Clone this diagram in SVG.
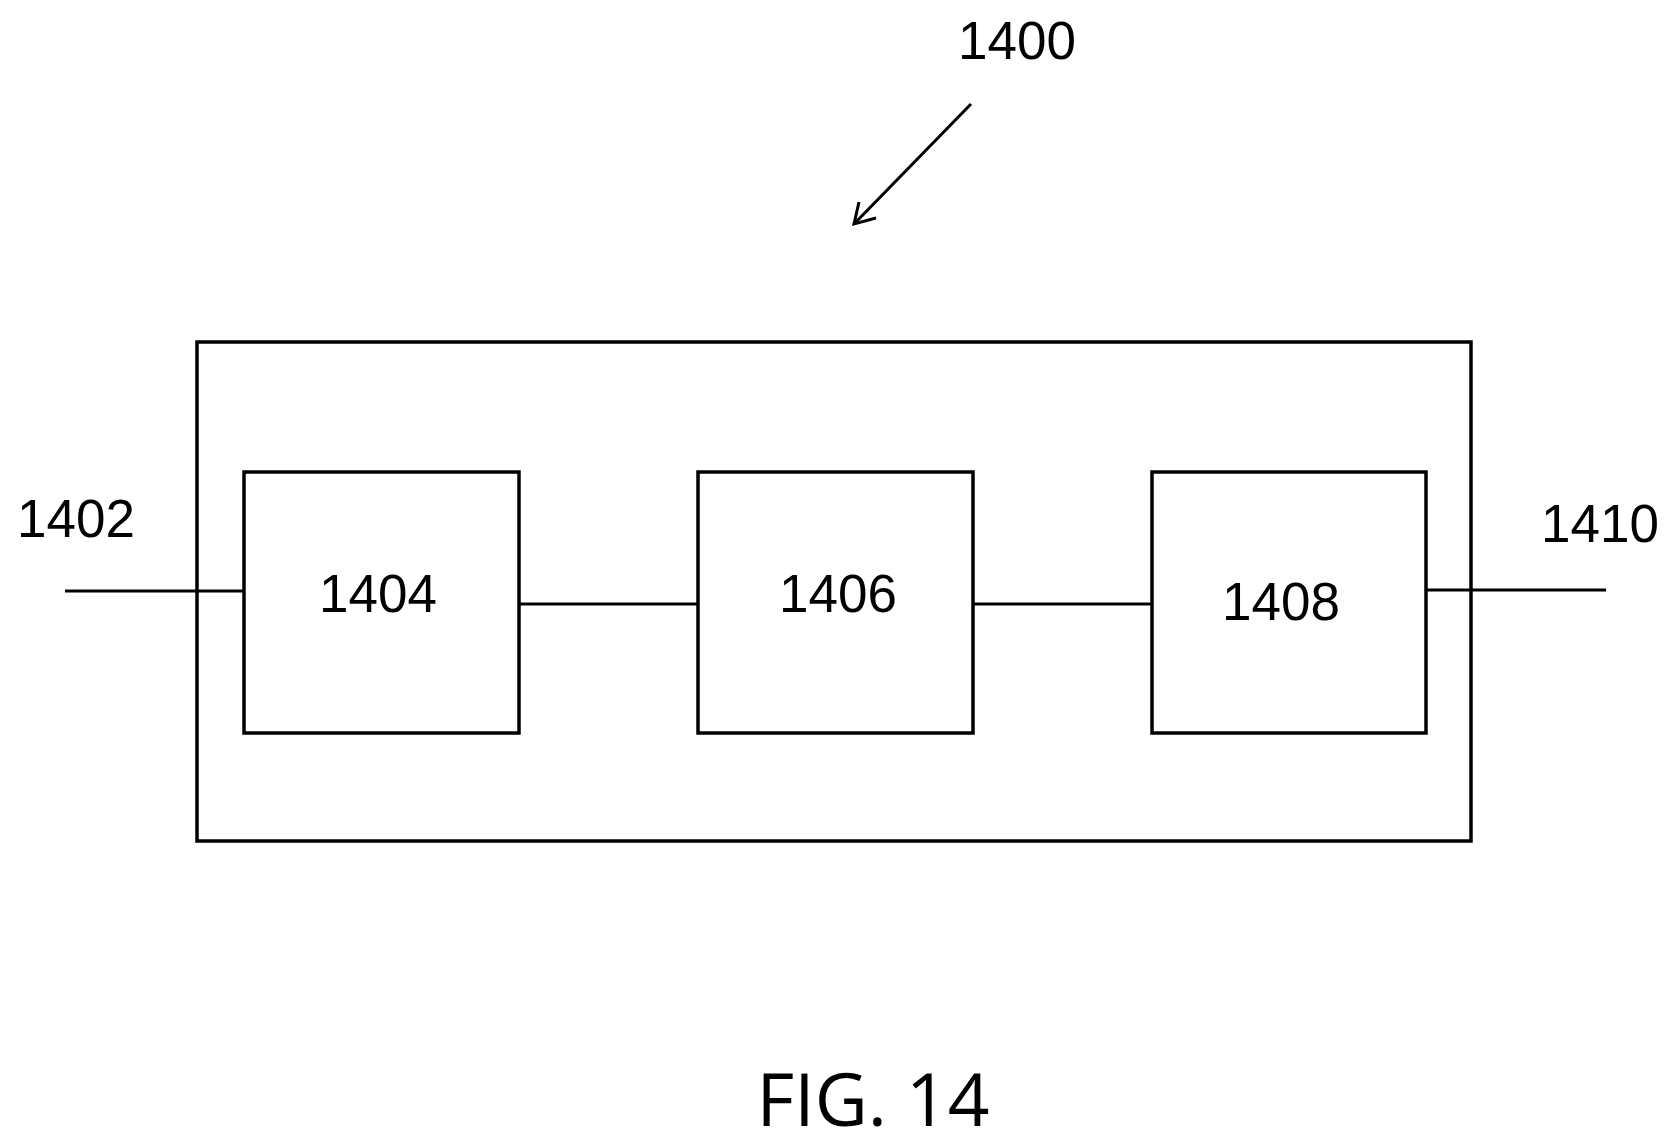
<svg xmlns="http://www.w3.org/2000/svg" width="1672" height="1144" viewBox="0 0 1672 1144">
<style>
.b{fill:none;stroke:#000;stroke-width:3.5}
.l{stroke:#000;stroke-width:3;fill:none}
text{font-family:"Liberation Sans",Arial,sans-serif;font-size:53px;text-anchor:middle;fill:#000}
</style>
<rect width="1672" height="1144" fill="#fff"/>
<g id="n1400"><rect class="b" x="197" y="342" width="1274" height="499"/>
<text x="1017" y="59">1400</text></g>
<g id="n1404"><rect class="b" x="244" y="472" width="275" height="261"/><text x="378" y="612">1404</text></g>
<g id="n1406"><rect class="b" x="698" y="472" width="275" height="261"/><text x="838" y="612">1406</text></g>
<g id="n1408"><rect class="b" x="1152" y="472" width="274" height="261"/><text x="1281" y="620">1408</text></g>
<g id="l1402"><text x="76" y="537">1402</text></g>
<g id="l1410"><text x="1600" y="542">1410</text></g>
<g id="connectors">
<line class="l" x1="65" y1="591" x2="244" y2="591"/>
<line class="l" x1="1426" y1="590" x2="1606" y2="590"/>
<line class="l" x1="519" y1="604" x2="698" y2="604"/>
<line class="l" x1="973" y1="604" x2="1152" y2="604"/>
<line class="l" x1="971" y1="104" x2="854" y2="224"/>
<polyline class="l" points="859,202 854,224 876,218"/>
</g>
<text x="873" y="1126" style="font-family:'Open Sans',sans-serif;font-size:73px">FIG. 14</text>
</svg>
